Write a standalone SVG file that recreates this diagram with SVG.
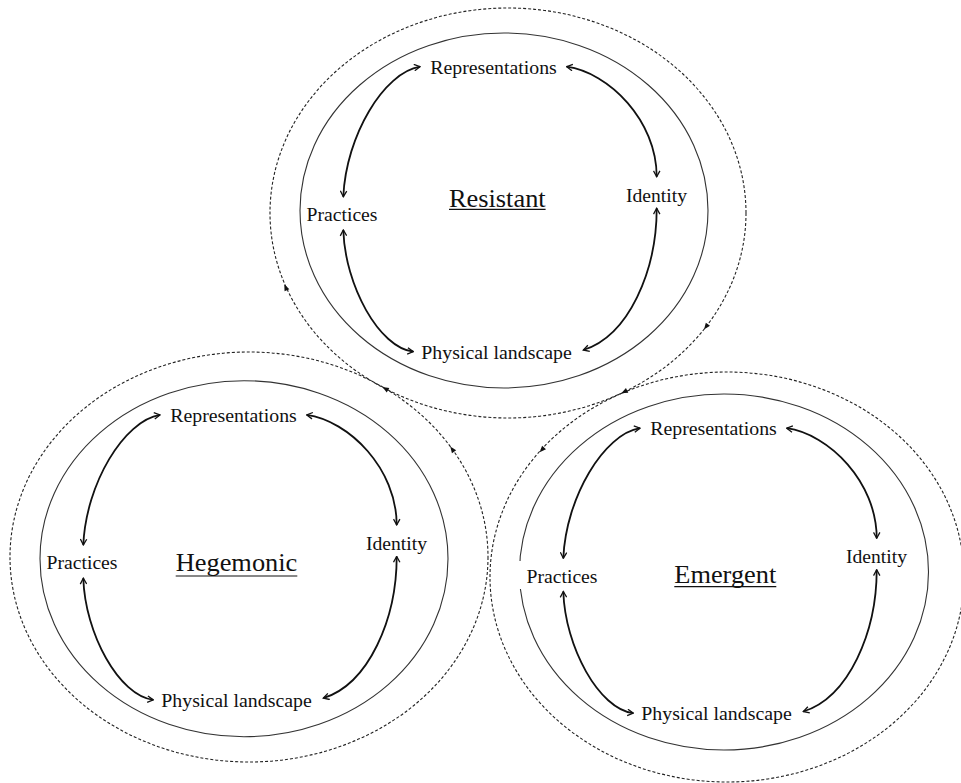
<svg xmlns="http://www.w3.org/2000/svg" width="961" height="783" viewBox="0 0 961 783">
<style>
  .bg { fill: #ffffff; }
  .dashed { fill: none; stroke: #222; stroke-width: 1.1; stroke-dasharray: 3 2; }
  .inner { fill: none; stroke: #333; stroke-width: 1.1; }
  .lbl { font-family: "Liberation Serif", "Times New Roman", serif; font-size: 18px; fill: #111; text-anchor: middle; }
  .ttl { font-family: "Liberation Serif", "Times New Roman", serif; font-size: 26px; fill: #111; text-anchor: middle; }
  .ul { stroke: #111; stroke-width: 1.2; }
  .arr { fill: none; stroke: #111; stroke-width: 1.8; marker-start: url(#chev); marker-end: url(#chev); }
  .tri { fill: #111; }
</style>
<defs>
  <marker id="chev" viewBox="0 0 8 8" refX="7" refY="4" markerWidth="8" markerHeight="8" markerUnits="userSpaceOnUse" orient="auto-start-reverse">
    <path d="M1.2,0.8 L7,4 L1.2,7.2" fill="none" stroke="#111" stroke-width="1.3"/>
  </marker>
  <path id="dtri" d="M3,0 L-3.5,-2.6 L-3.5,2.6 Z"/>
</defs>
<rect class="bg" x="0" y="0" width="961" height="783"/>

<g id="flows">
  <ellipse class="dashed" cx="508" cy="213" rx="238" ry="205"/>
  <ellipse class="dashed" cx="249" cy="557" rx="239" ry="205"/>
  <ellipse class="dashed" cx="727" cy="577" rx="237" ry="205"/>
  <use href="#dtri" class="tri" transform="translate(285.5,287) rotate(-114)"/>
  <use href="#dtri" class="tri" transform="translate(705.8,327) rotate(127)"/>
  <use href="#dtri" class="tri" transform="translate(624,392) rotate(153)"/>
  <use href="#dtri" class="tri" transform="translate(385,388.5) rotate(-150)"/>
  <use href="#dtri" class="tri" transform="translate(452,449) rotate(-126)"/>
  <use href="#dtri" class="tri" transform="translate(541.7,450) rotate(132)"/>
</g>

<!-- Resistant -->
<g id="resistant" transform="translate(504,210.5)">
  <ellipse class="inner" cx="0" cy="0" rx="204" ry="177.5"/>
  <g id="resistant-title">
    <text class="ttl" x="-6.7" y="-3.8" textLength="96.7" lengthAdjust="spacingAndGlyphs">Resistant</text>
    <line class="ul" x1="-55" y1="-1.2" x2="41.6" y2="-1.2"/>
  </g>
</g>
<g id="resistant-representations" transform="translate(504,210.5)"><text class="lbl" x="-10.5" y="-137" textLength="126.5" lengthAdjust="spacingAndGlyphs">Representations</text></g>
<g id="resistant-identity" transform="translate(504,210.5)"><text class="lbl" x="152.5" y="-9" textLength="61" lengthAdjust="spacingAndGlyphs">Identity</text></g>
<g id="resistant-practices" transform="translate(504,210.5)"><text class="lbl" x="-162" y="10.5" textLength="71" lengthAdjust="spacingAndGlyphs">Practices</text></g>
<g id="resistant-physical" transform="translate(504,210.5)"><text class="lbl" x="-7.5" y="148" textLength="150.5" lengthAdjust="spacingAndGlyphs">Physical landscape</text></g>

<!-- Hegemonic -->
<g id="hegemonic" transform="translate(244,558.7)">
  <ellipse class="inner" cx="0" cy="0" rx="204" ry="178"/>
  <g id="hegemonic-title">
    <text class="ttl" x="-7.5" y="12.3" textLength="121.6" lengthAdjust="spacingAndGlyphs">Hegemonic</text>
    <line class="ul" x1="-68.3" y1="17.3" x2="53.3" y2="17.3"/>
  </g>
</g>
<g id="hegemonic-representations" transform="translate(244,558.7)"><text class="lbl" x="-10.5" y="-137" textLength="126.5" lengthAdjust="spacingAndGlyphs">Representations</text></g>
<g id="hegemonic-identity" transform="translate(244,558.7)"><text class="lbl" x="152.5" y="-9" textLength="61" lengthAdjust="spacingAndGlyphs">Identity</text></g>
<g id="hegemonic-practices" transform="translate(244,558.7)"><text class="lbl" x="-162" y="10.5" textLength="71" lengthAdjust="spacingAndGlyphs">Practices</text></g>
<g id="hegemonic-physical" transform="translate(244,558.7)"><text class="lbl" x="-7.5" y="148" textLength="150.5" lengthAdjust="spacingAndGlyphs">Physical landscape</text></g>

<!-- Emergent -->
<g id="emergent" transform="translate(724,572)">
  <ellipse class="inner" cx="0" cy="0" rx="204.5" ry="178"/>
  <g id="emergent-title">
    <text class="ttl" x="1.3" y="10.7" textLength="102" lengthAdjust="spacingAndGlyphs">Emergent</text>
    <line class="ul" x1="-49.7" y1="14.7" x2="52.3" y2="14.7"/>
  </g>
</g>
<g id="emergent-representations" transform="translate(724,572)"><text class="lbl" x="-10.5" y="-137" textLength="126.5" lengthAdjust="spacingAndGlyphs">Representations</text></g>
<g id="emergent-identity" transform="translate(724,572)"><text class="lbl" x="152.5" y="-9" textLength="61" lengthAdjust="spacingAndGlyphs">Identity</text></g>
<g id="emergent-practices" transform="translate(724,572)">
  <rect class="bg" x="-208" y="-11" width="12" height="28"/>
  <text class="lbl" x="-162" y="10.5" textLength="71" lengthAdjust="spacingAndGlyphs">Practices</text>
</g>
<g id="emergent-physical" transform="translate(724,572)"><text class="lbl" x="-7.5" y="148" textLength="150.5" lengthAdjust="spacingAndGlyphs">Physical landscape</text></g>

<g id="connectors">
  <g id="resistant-connectors" transform="translate(504,210.5)">
    <path class="arr" d="M-160.7,-13.8 C-158,-75 -120,-138 -84,-143.8"/>
    <path class="arr" d="M62.7,-143.8 C105,-138 152.7,-90 152.7,-33.8"/>
    <path class="arr" d="M-160.7,19.5 C-159,75 -125,137 -90.7,141.2"/>
    <path class="arr" d="M152.7,-2.2 C152.7,60 125,125 79.3,139.5"/>
  </g>
  <g id="hegemonic-connectors" transform="translate(244,558.7)">
    <path class="arr" d="M-160.7,-13.8 C-158,-75 -120,-138 -84,-143.8"/>
    <path class="arr" d="M62.7,-143.8 C105,-138 152.7,-90 152.7,-33.8"/>
    <path class="arr" d="M-160.7,19.5 C-159,75 -125,137 -90.7,141.2"/>
    <path class="arr" d="M152.7,-2.2 C152.7,60 125,125 79.3,139.5"/>
  </g>
  <g id="emergent-connectors" transform="translate(724,572)">
    <path class="arr" d="M-160.7,-13.8 C-158,-75 -120,-138 -84,-143.8"/>
    <path class="arr" d="M62.7,-143.8 C105,-138 152.7,-90 152.7,-33.8"/>
    <path class="arr" d="M-160.7,19.5 C-159,75 -125,137 -90.7,141.2"/>
    <path class="arr" d="M152.7,-2.2 C152.7,60 125,125 79.3,139.5"/>
  </g>
</g>
</svg>
